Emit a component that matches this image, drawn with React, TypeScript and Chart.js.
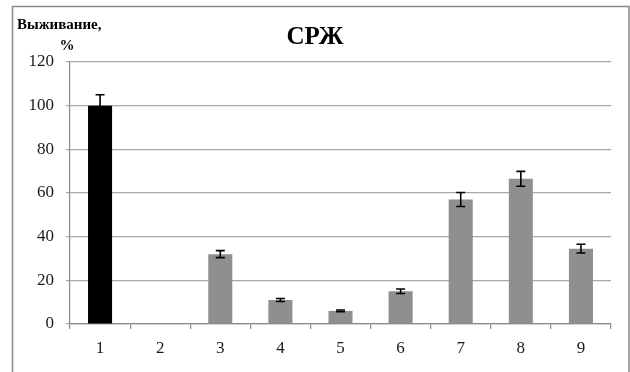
import React, { useEffect, useRef } from "react";
import { Chart, registerables } from "chart.js";

Chart.register(...registerables);

const categories = ["1", "2", "3", "4", "5", "6", "7", "8", "9"];
const survival = [100, 0, 32, 11, 6, 15, 57, 66.5, 34.5];
const errors = [5, 0, 1.6, 0.7, 0.4, 1, 3.2, 3.4, 2];
const barColors = ["#000000", "#8f8f8f", "#8f8f8f", "#8f8f8f", "#8f8f8f", "#8f8f8f", "#8f8f8f", "#8f8f8f", "#8f8f8f"];
const yTicks = [0, 20, 40, 60, 80, 100, 120];
const titleText = "СРЖ";
const yLabelLines = ["Выживание,", "%"];

const SERIF = "'Liberation Serif', 'Times New Roman', serif";

const decorPlugin = {
  id: "decor",
  beforeDraw(chart: any) {
    const ctx = chart.ctx;
    ctx.save();
    ctx.fillStyle = "#ffffff";
    ctx.fillRect(0, 0, chart.width, chart.height);
    ctx.strokeStyle = "#8a8a8a";
    ctx.lineWidth = 1.5;
    ctx.strokeRect(12.5, 6.5, 616.5, 400);
    ctx.restore();
  },
  afterDraw(chart: any) {
    const ctx = chart.ctx;
    ctx.save();
    ctx.fillStyle = "#000000";
    ctx.textAlign = "center";
    ctx.textBaseline = "middle";
    ctx.font = `bold 25px ${SERIF}`;
    ctx.fillText(titleText, 315, 38);
    ctx.font = `bold 15px ${SERIF}`;
    ctx.textAlign = "left";
    ctx.fillText(yLabelLines[0], 17, 25);
    ctx.textAlign = "center";
    ctx.fillText(yLabelLines[1], 67, 46);
    ctx.restore();
  },
};

const errorBarPlugin = {
  id: "errorBars",
  afterDatasetsDraw(chart: any) {
    const ctx = chart.ctx;
    const meta = chart.getDatasetMeta(0);
    const yScale = chart.scales.y;
    ctx.save();
    ctx.strokeStyle = "#000000";
    ctx.lineWidth = 1.6;
    meta.data.forEach((bar: any, i: number) => {
      const v = survival[i];
      const e = errors[i];
      if (!e) return;
      const x = bar.x;
      const yTop = yScale.getPixelForValue(v + e);
      const yBot = yScale.getPixelForValue(v - e);
      const half = 4.5;
      ctx.beginPath();
      ctx.moveTo(x, yTop);
      ctx.lineTo(x, yBot);
      ctx.moveTo(x - half, yTop);
      ctx.lineTo(x + half, yTop);
      ctx.moveTo(x - half, yBot);
      ctx.lineTo(x + half, yBot);
      ctx.stroke();
    });
    ctx.restore();
  },
};

export default function App() {
  const ref = useRef<HTMLCanvasElement | null>(null);

  useEffect(() => {
    if (!ref.current) return;
    const chart = new Chart(ref.current, {
      type: "bar",
      data: {
        labels: categories,
        datasets: [
          {
            data: survival,
            backgroundColor: barColors,
            borderWidth: 0,
            barPercentage: 0.4,
            categoryPercentage: 1,
          },
        ],
      },
      options: {
        animation: false,
        responsive: false,
        maintainAspectRatio: false,
        layout: { padding: { left: 0, right: 19, top: 62, bottom: 0 } },
        plugins: {
          legend: { display: false },
          title: { display: false },
          tooltip: { enabled: false },
        },
        scales: {
          x: {
            offset: true,
            grid: {
              offset: true,
              drawOnChartArea: false,
              drawTicks: true,
              tickLength: 5,
              color: "#8a8a8a",
              lineWidth: 1.2,
            },
            border: { color: "#8a8a8a", width: 1.2 },
            ticks: {
              color: "#1a1a1a",
              font: { family: SERIF, size: 17 },
              padding: 9,
              maxRotation: 0,
            },
            afterFit(scale: any) {
              scale.height = 48;
            },
          },
          y: {
            min: 0,
            max: 120,
            afterBuildTicks(scale: any) {
              scale.ticks = yTicks.map((v) => ({ value: v }));
            },
            grid: {
              color: "#a8a8a8",
              lineWidth: 1.2,
              drawTicks: true,
              tickLength: 4,
            },
            border: { color: "#8a8a8a", width: 1.2 },
            ticks: {
              color: "#1a1a1a",
              font: { family: SERIF, size: 17 },
              padding: 12,
            },
            afterFit(scale: any) {
              scale.width = 70;
            },
          },
        },
      },
      plugins: [decorPlugin, errorBarPlugin],
    });
    return () => chart.destroy();
  }, []);

  return (
    <div style={{ position: "absolute", left: 0, top: 0, width: 630, height: 372 }}>
      <canvas ref={ref} width={630} height={372} style={{ display: "block", width: 630, height: 372 }} />
    </div>
  );
}
